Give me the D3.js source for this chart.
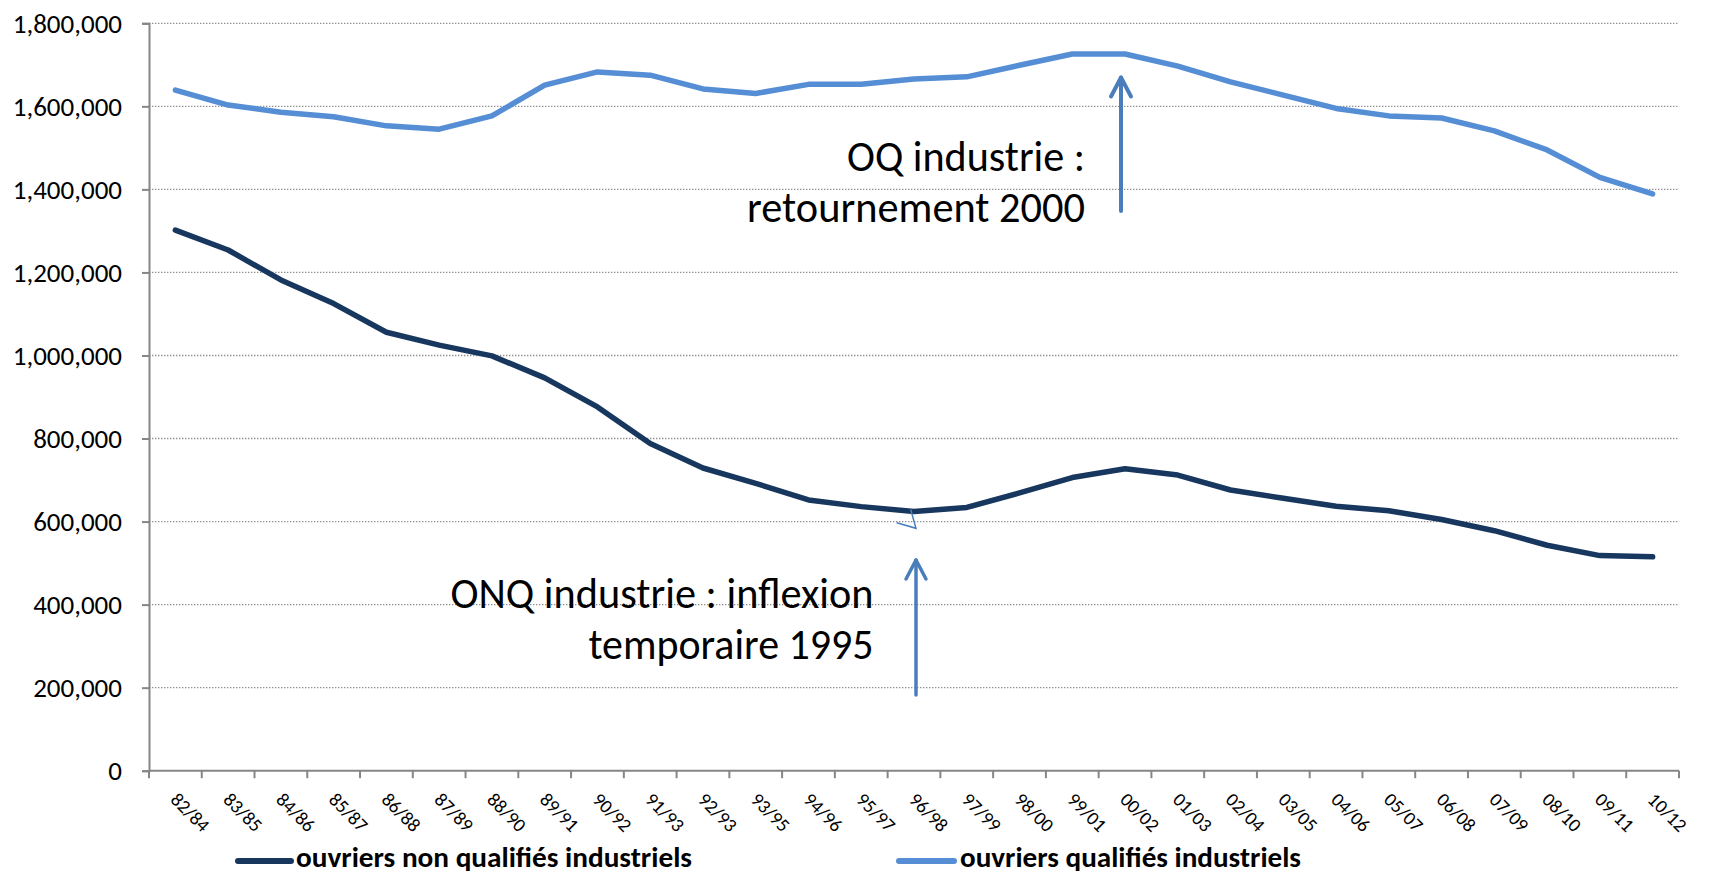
<!DOCTYPE html>
<html>
<head>
<meta charset="utf-8">
<script src="https://cdn.jsdelivr.net/npm/d3@7"></script>
<style>
  html, body { margin: 0; padding: 0; background: #ffffff; }
  svg { display: block; }
  text { font-family: 'Carlito', 'Open Sans', sans-serif; fill: #000; }
</style>
</head>
<body>
<svg id="chart" width="1711" height="875"></svg>
<script>
const categories = ["82/84","83/85","84/86","85/87","86/88","87/89","88/90","89/91","90/92","91/93","92/93","93/95","94/96","95/97","96/98","97/99","98/00","99/01","00/02","01/03","02/04","03/05","04/06","05/07","06/08","07/09","08/10","09/11","10/12"];

const onqValues = [1302000,1254000,1182000,1125000,1056000,1025000,999000,946000,876000,788000,729000,692000,652000,636000,624000,634000,669000,706000,727000,712000,676000,656000,637000,626000,605000,578000,543000,518000,515000];

const oqValues = [1639000,1603000,1586000,1575000,1553000,1545000,1577000,1651000,1683000,1675000,1642000,1631000,1653000,1653000,1666000,1671000,1699000,1726000,1726000,1697000,1659000,1627000,1595000,1577000,1572000,1541000,1495000,1429000,1389000];

const seriesNames = ["ouvriers non qualifiés industriels", "ouvriers qualifiés industriels"];
const yTicks = [0,200000,400000,600000,800000,1000000,1200000,1400000,1600000,1800000];

const annotOQ = ["OQ industrie :", "retournement 2000"];
const annotONQ = ["ONQ industrie : inflexion", "temporaire 1995"];

const colDark = "#17375E";
const colLight = "#558ED5";
const colArrow = "#4A7EBB";
const colAxis = "#868686";

const svg = d3.select("#chart");
const plotLeft = 149, plotRight = 1679, plotTop = 23.3, plotBottom = 770.7;

const x = d3.scaleBand().domain(categories).range([plotLeft, plotRight]).paddingInner(0).paddingOuter(0);
const y = d3.scaleLinear().domain([0, 1800000]).range([plotBottom, plotTop]);
const cx = c => x(c) + x.bandwidth() / 2;

// gridlines
svg.append("g").selectAll("line").data(yTicks.filter(d => d > 0)).join("line")
  .attr("x1", plotLeft).attr("x2", plotRight)
  .attr("y1", d => y(d)).attr("y2", d => y(d))
  .attr("stroke", "#8f8f8f").attr("stroke-width", 1.3)
  .attr("stroke-dasharray", "1.4,1.6");

// y axis
const yAxis = svg.append("g").attr("transform", `translate(${plotLeft},0)`)
  .call(d3.axisLeft(y).tickValues(yTicks).tickSize(7).tickPadding(20)
    .tickFormat(d3.format(",")));
yAxis.select(".domain").attr("stroke", colAxis).attr("stroke-width", 2);
yAxis.selectAll(".tick line").attr("stroke", colAxis).attr("stroke-width", 2);
yAxis.selectAll(".tick text")
  .style("font-family", "'Carlito','Open Sans',sans-serif")
  .attr("font-size", 27).attr("fill", "#000").attr("dy", "0.34em");

// x axis (ticks on band boundaries)
svg.append("line").attr("x1", plotLeft).attr("x2", plotRight).attr("y1", plotBottom).attr("y2", plotBottom)
  .attr("stroke", colAxis).attr("stroke-width", 2);
const bounds = categories.map(c => x(c)).concat([plotRight]);
svg.append("g").selectAll("line").data(bounds).join("line")
  .attr("x1", d => d).attr("x2", d => d)
  .attr("y1", plotBottom).attr("y2", plotBottom + 7.5)
  .attr("stroke", colAxis).attr("stroke-width", 2);

svg.append("g").selectAll("text").data(categories).join("text")
  .attr("transform", c => `translate(${cx(c) - 6},${plotBottom + 30}) rotate(45)`)
  .attr("font-size", 19)
  .attr("text-anchor", "start")
  .text(c => c);

// lines
const line = d3.line().x((d, i) => cx(categories[i])).y(d => y(d));
svg.append("path").datum(oqValues).attr("d", line)
  .attr("fill", "none").attr("stroke", colLight).attr("stroke-width", 5.5)
  .attr("stroke-linejoin", "round").attr("stroke-linecap", "round");
svg.append("path").datum(onqValues).attr("d", line)
  .attr("fill", "none").attr("stroke", colDark).attr("stroke-width", 5.5)
  .attr("stroke-linejoin", "round").attr("stroke-linecap", "round");

// annotations
function arrow(xp, y0, y1, w) {
  const g = svg.append("g").attr("stroke", colArrow).attr("fill", "none")
    .attr("stroke-width", w).attr("stroke-linecap", "round").attr("stroke-linejoin", "round");
  g.append("line").attr("x1", xp).attr("x2", xp).attr("y1", y0).attr("y2", y1);
  g.append("polyline").attr("points", `${xp - 10},${y1 + 19} ${xp},${y1} ${xp + 10},${y1 + 19}`);
}
arrow(1121, 211, 77.5, 4);
arrow(916, 695, 560, 3.5);
// stray arrowhead fragment near the ONQ minimum
svg.append("polyline")
  .attr("points", "910.7,509.5 916,528.3 896.7,522.7")
  .attr("fill", "none").attr("stroke", colArrow).attr("stroke-width", 1.5);

function annot(lines, xr, ys, widths) {
  lines.forEach((t, i) => {
    svg.append("text").attr("x", xr).attr("y", ys[i])
      .attr("text-anchor", "end").attr("font-size", 43)
      .attr("textLength", widths[i]).attr("lengthAdjust", "spacingAndGlyphs")
      .text(t);
  });
}
annot(annotOQ, 1085, [171, 222], [238, 338]);
annot(annotONQ, 873.5, [608, 659], [423, 285]);

// legend
const legend = [
  {name: seriesNames[0], color: colDark, x0: 238, x1: 291, tx: 296, tw: 396},
  {name: seriesNames[1], color: colLight, x0: 899, x1: 954, tx: 960, tw: 341}
];
legend.forEach(l => {
  svg.append("line").attr("x1", l.x0).attr("x2", l.x1).attr("y1", 861).attr("y2", 861)
    .attr("stroke", l.color).attr("stroke-width", 6).attr("stroke-linecap", "round");
  svg.append("text").attr("x", l.tx).attr("y", 867)
    .attr("font-size", 28).attr("font-weight", "bold")
    .attr("textLength", l.tw).attr("lengthAdjust", "spacingAndGlyphs")
    .text(l.name);
});
</script>
</body>
</html>
